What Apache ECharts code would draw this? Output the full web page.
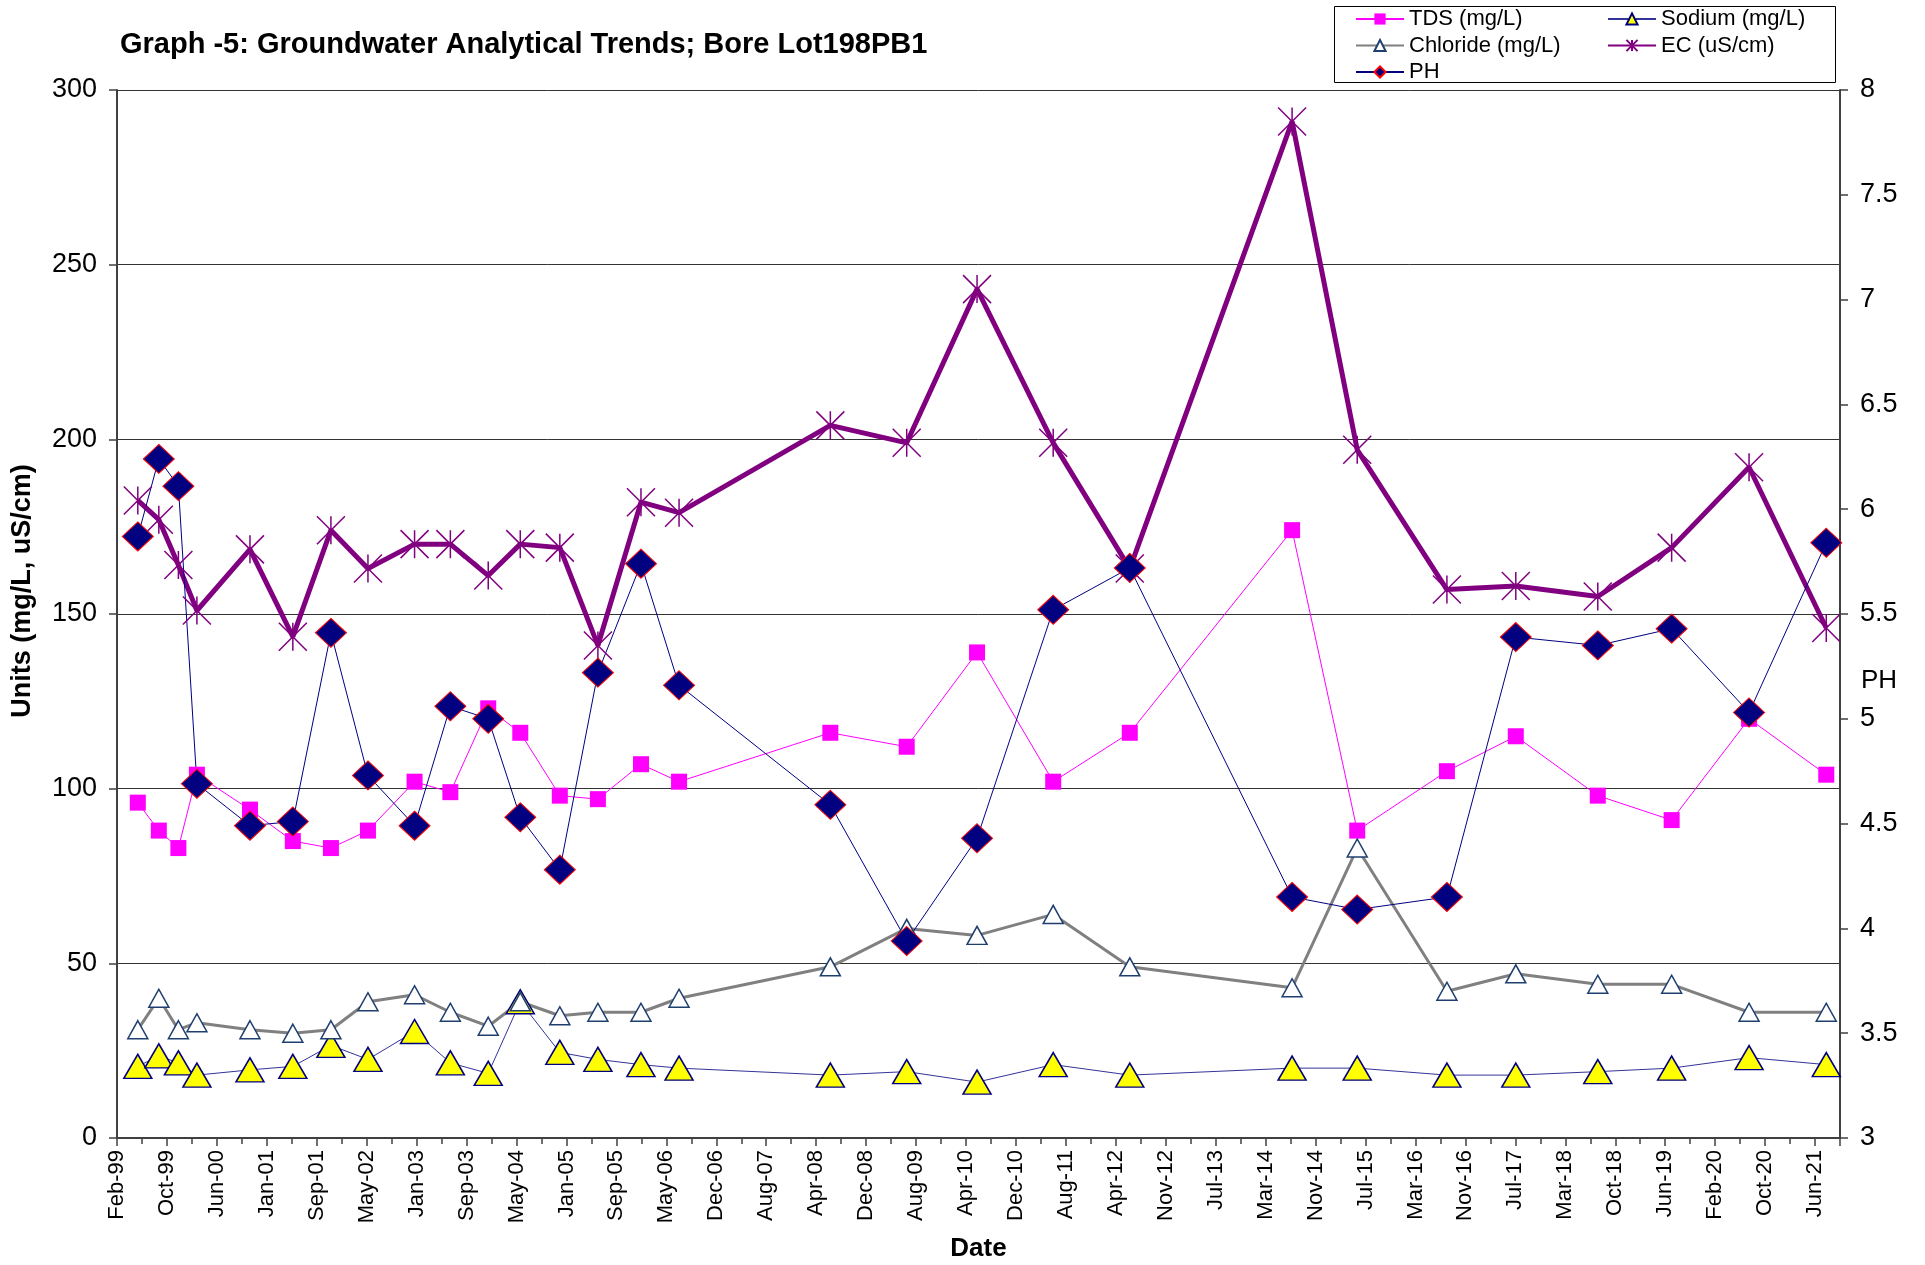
<!DOCTYPE html>
<html>
<head>
<meta charset="utf-8">
<script src="https://cdn.jsdelivr.net/npm/echarts@6/dist/echarts.min.js"></script>
<style>
html,body{margin:0;padding:0;background:#fff;}
#chart{width:1925px;height:1265px;}
</style>
</head>
<body>
<div id="chart"></div>
<script>
// ---- data ----
const sampleDates = ['1999-05-21','1999-08-30','1999-12-02','2000-02-29','2000-11-10','2001-06-04','2001-12-04','2002-05-31','2003-01-10','2003-07-01','2003-12-30','2004-06-01','2004-12-08','2005-06-09','2006-01-02','2006-07-04','2008-06-30','2009-07-02','2010-06-05','2011-06-06','2012-06-08','2014-07-28','2015-06-06','2016-08-10','2017-07-07','2018-08-05','2019-07-26','2020-08-01','2021-08-07'];
const tdsValues = [96, 88, 83, 104, 94, 85, 83, 88, 102, 99, 123, 116, 98, 97, 107, 102, 116, 112, 139, 102, 116, 174, 88, 105, 115, 98, 91, 120, 104];
const sodiumValues = [20.5, 23.5, 21.5, 18, 19.5, 20.5, 26.5, 22.5, 30.5, 21.5, 18.5, 39, 24.5, 22.5, 21, 20, 18, 19, 16, 21, 18, 20, 20, 18, 18, 19, 20, 23, 21];
const chlorideValues = [31, 40, 31, 33, 31, 30, 31, 39, 41, 36, 32, 39, 35, 36, 36, 40, 49, 60, 58, 64, 49, 43, 83, 42, 47, 44, 44, 36, 36];
const ecValues = [182.5, 177, 164, 151, 168.5, 143.5, 174, 163, 170, 170, 161, 170, 169, 141, 182, 179, 204, 199, 243, 199, 163, 291, 197, 157, 158, 155, 169, 192, 146];
const phValues = [5.87, 6.24, 6.11, 4.69, 4.49, 4.51, 5.41, 4.73, 4.49, 5.06, 5.0, 4.53, 4.28, 5.22, 5.74, 5.16, 4.59, 3.94, 4.43, 5.52, 5.72, 4.15, 4.09, 4.15, 5.39, 5.35, 5.43, 5.03, 5.84];

// date axis: first tick date, tick step (days), axis span (days)
const axisStartDate = '1999-02-10';
const tickStepDays = 240;
const axisSpanDays = 8280;
const monthNames = ['Jan','Feb','Mar','Apr','May','Jun','Jul','Aug','Sep','Oct','Nov','Dec'];
const leftAxisRange = [0, 300, 50];
const rightAxisRange = [3, 8, 0.5];

// ---- helpers ----
const DAY = 86400000;
const t0 = Date.parse(axisStartDate + 'T00:00:00Z');
function dayOffset(d) { return (Date.parse(d + 'T00:00:00Z') - t0) / DAY; }
function fmtDate(v) {
  const dt = new Date(t0 + v * DAY);
  return monthNames[dt.getUTCMonth()] + '-' + String(dt.getUTCFullYear() % 100).padStart(2, '0');
}
function pairs(vals) { return sampleDates.map((d, i) => [dayOffset(d), vals[i]]); }

const FONT = '"Liberation Sans", Arial, sans-serif';
const AXIS_COLOR = '#404040';
const asterisk = 'path://M0,0L10,10M10,0L0,10M5,0L5,10';

const chart = echarts.init(document.getElementById('chart'), null, {renderer: 'canvas'});
chart.setOption({
  animation: false,
  backgroundColor: '#ffffff',
  title: {
    text: 'Graph -5: Groundwater Analytical Trends; Bore Lot198PB1',
    left: 120, top: 30, padding: 0,
    textStyle: {fontFamily: FONT, fontSize: 29, fontWeight: 'bold', color: '#000'}
  },
  grid: {left: 117, right: 85, top: 90, bottom: 127, containLabel: false, outerBoundsMode: 'none'},
  legend: [
    {
      data: ['TDS (mg/L)', 'Chloride (mg/L)', 'PH'],
      orient: 'vertical', left: 1355, top: 8, padding: 0,
      itemWidth: 48, itemHeight: 14, itemGap: 4.5, selectedMode: false,
      textStyle: {fontFamily: FONT, fontSize: 22, color: '#000', lineHeight: 22}
    },
    {
      data: ['Sodium (mg/L)', 'EC (uS/cm)'],
      orient: 'vertical', left: 1607, top: 8, padding: 0,
      itemWidth: 48, itemHeight: 14, itemGap: 4.5, selectedMode: false,
      textStyle: {fontFamily: FONT, fontSize: 22, color: '#000', lineHeight: 22}
    }
  ],
  graphic: [
    {
      type: 'rect', z: -1,
      shape: {x: 1334.5, y: 6.5, width: 501, height: 76},
      style: {fill: '#fff', stroke: '#000', lineWidth: 1}
    },
    {
      type: 'text', x: 1861, y: 681,
      style: {text: 'PH', font: '26px "Liberation Sans", Arial, sans-serif', fill: '#000', textAlign: 'left', textVerticalAlign: 'middle'}
    }
  ],
  xAxis: {
    type: 'value',
    min: 0, max: axisSpanDays, interval: tickStepDays,
    name: 'Date', nameLocation: 'middle', nameGap: 98,
    nameTextStyle: {fontFamily: FONT, fontSize: 26, fontWeight: 'bold', color: '#000'},
    axisLine: {show: true, onZero: false, lineStyle: {color: AXIS_COLOR, width: 2}},
    axisTick: {show: true, length: 8, lineStyle: {color: AXIS_COLOR, width: 1.5}},
    minorTick: {show: true, splitNumber: 2, length: 6, lineStyle: {color: AXIS_COLOR, width: 1.5}},
    splitLine: {show: false},
    axisLabel: {
      rotate: 90, margin: 12, fontFamily: FONT, fontSize: 22, color: '#000',
      showMaxLabel: false, formatter: fmtDate
    }
  },
  yAxis: [
    {
      type: 'value', position: 'left',
      min: leftAxisRange[0], max: leftAxisRange[1], interval: leftAxisRange[2],
      name: 'Units (mg/L, uS/cm)', nameLocation: 'middle', nameGap: 81, nameRotate: 90,
      nameTextStyle: {fontFamily: FONT, fontSize: 27, fontWeight: 'bold', color: '#000', padding: [0, 0, 0, 46]},
      axisLine: {show: true, lineStyle: {color: AXIS_COLOR, width: 2}},
      axisTick: {show: true, length: 8, lineStyle: {color: AXIS_COLOR, width: 1.5}},
      splitLine: {show: true, lineStyle: {color: '#333', width: 1}},
      axisLabel: {margin: 20, fontFamily: FONT, fontSize: 27, color: '#000'}
    },
    {
      type: 'value', position: 'right',
      min: rightAxisRange[0], max: rightAxisRange[1], interval: rightAxisRange[2],
      axisLine: {show: true, lineStyle: {color: AXIS_COLOR, width: 2}},
      axisTick: {show: true, length: 8, lineStyle: {color: AXIS_COLOR, width: 1.5}},
      splitLine: {show: false},
      axisLabel: {margin: 20, fontFamily: FONT, fontSize: 27, color: '#000'}
    }
  ],
  series: [
    {
      name: 'TDS (mg/L)', type: 'line', yAxisIndex: 0, data: pairs(tdsValues),
      symbol: 'rect', symbolSize: 16, showAllSymbol: true,
      lineStyle: {color: '#FF00FF', width: 1},
      itemStyle: {color: '#FF00FF', borderWidth: 0}
    },
    {
      name: 'Sodium (mg/L)', type: 'line', yAxisIndex: 0, data: pairs(sodiumValues),
      symbol: 'triangle', symbolSize: [28, 24],
      lineStyle: {color: '#333399', width: 1},
      itemStyle: {color: '#FFFF00', borderColor: '#000080', borderWidth: 1.5}
    },
    {
      name: 'Chloride (mg/L)', type: 'line', yAxisIndex: 0, data: pairs(chlorideValues),
      symbol: 'triangle', symbolSize: [20, 18],
      lineStyle: {color: '#808080', width: 3},
      itemStyle: {color: '#FFFFFF', borderColor: '#1F3F6F', borderWidth: 1.5}
    },
    {
      name: 'EC (uS/cm)', type: 'line', yAxisIndex: 0, data: pairs(ecValues),
      symbol: asterisk, symbolSize: [28, 28], symbolKeepAspect: true,
      lineStyle: {color: '#800080', width: 5},
      itemStyle: {color: '#800080', borderColor: '#800080', borderWidth: 1.5}
    },
    {
      name: 'PH', type: 'line', yAxisIndex: 1, data: pairs(phValues),
      symbol: 'diamond', symbolSize: [31, 29],
      lineStyle: {color: '#000080', width: 1},
      itemStyle: {color: '#000080', borderColor: '#FF0000', borderWidth: 1}
    }
  ]
});
</script>
</body>
</html>
